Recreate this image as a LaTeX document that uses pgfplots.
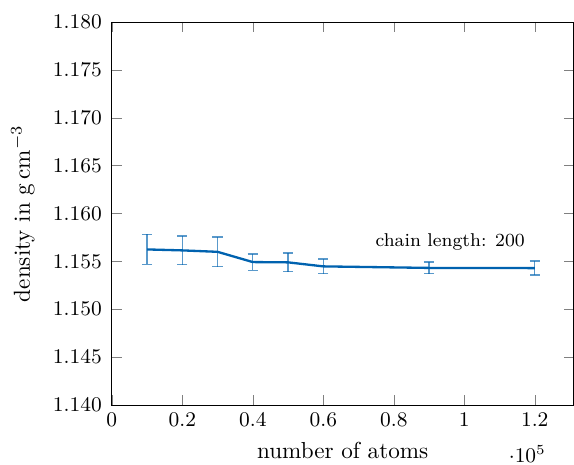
\documentclass[border=0pt]{standalone}
\usepackage{pgfplots}
\pgfplotsset{compat=1.18}
\definecolor{lineblue}{RGB}{0,98,175}
\begin{document}
\begin{tikzpicture}
\begin{axis}[
  name=ax,
  scale only axis,
  width=199.5pt, height=165.5pt,
  xmin=0, xmax=131000,
  ymin=1.140, ymax=1.180,
  xtick={0,20000,40000,60000,80000,100000,120000},
  ytick={1.140,1.145,...,1.1801},
  scaled y ticks=false,
  yticklabel style={xshift=-0.8pt, /pgf/number format/.cd, fixed, fixed zerofill, precision=3},
  ticklabel style={font=\small},
  tick align=inside,
  xlabel={number of atoms},
  ylabel={density in $\mathrm{g\,cm^{-3}}$},
  ylabel style={at={([xshift=-38.4pt]axis description cs:0,0.5)}, anchor=center},
  every x tick scale label/.style={at={(rel axis cs:0.9,0)}, anchor=north, yshift=-13.8pt, font=\small},
]
\addplot[color=lineblue, line width=1pt, mark=none,
  error bars/.cd, y dir=both, y explicit,
  error bar style={color=lineblue, opacity=0.65, line width=0.6pt},
  error mark options={color=lineblue, opacity=0.65, line width=0.6pt, rotate=90, mark size=2.2pt}]
  table[x=x, y=y, y error=e] {
x y e
10000 1.15625 0.00156
20000 1.15615 0.00150
30000 1.15600 0.00155
40000 1.15493 0.00085
50000 1.15490 0.00097
60000 1.15448 0.00076
90000 1.15432 0.00060
120000 1.15430 0.00073
};
\node[font=\footnotesize] at (axis cs:96000,1.15708) {chain length: 200};
\end{axis}
\pgfresetboundingbox
\path[use as bounding box] ([xshift=-48.3pt,yshift=-25.9pt]ax.south west) rectangle ([yshift=9.5pt,xshift=0.2pt]ax.north east);
\end{tikzpicture}
\end{document}
